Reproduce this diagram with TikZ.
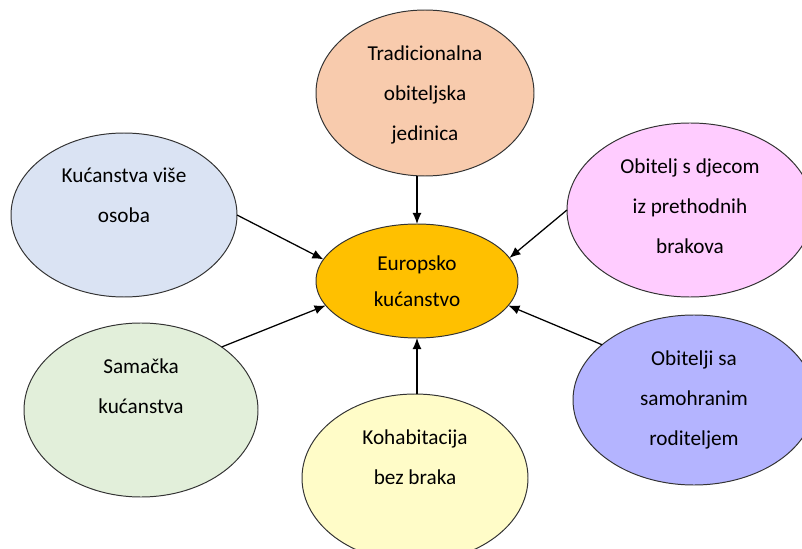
\documentclass[tikz,border=0pt]{standalone}
\usepackage{fontspec}
\setmainfont{Carlito}
\usepackage{xcolor}
\usetikzlibrary{arrows.meta,positioning,shapes.geometric}
\definecolor{peach}{HTML}{F8CBAD}
\definecolor{gold}{HTML}{FFC000}
\definecolor{paleblue}{HTML}{DAE3F3}
\definecolor{palegreen}{HTML}{E2EFDA}
\definecolor{paleyellow}{HTML}{FFFCC8}
\definecolor{palepink}{HTML}{FFCCFF}
\definecolor{periwinkle}{HTML}{B4B4FF}
\tikzset{%
	bubble/.style = {draw=black!80, ellipse, line width=0.7pt, inner sep=0pt, outer sep=0pt},
	txt/.style    = {align=center, inner sep=0pt, font=\fontsize{15.1}{28.5}\selectfont},
	arrow/.style  = {line width=0.9pt, -{Latex[length=2.8mm,width=2.3mm]}},
}
\begin{document}
\begin{tikzpicture}
		\useasboundingbox (0,0) rectangle (20.05,13.7);
		
		% households around the centre
		\node[bubble, fill=gold, minimum width=5.05cm, minimum height=2.85cm] (eu) at (10.425,6.675) {};
		\node[bubble, fill=peach, minimum width=5.45cm, minimum height=4.15cm] (tr) at (10.625,11.375) {};
		\node[bubble, fill=paleblue, minimum width=5.65cm, minimum height=4.1cm] (kv) at (3.1,8.325) {};
		\node[bubble, fill=palepink, minimum width=6.15cm, minimum height=4.35cm] (od) at (17.25,8.45) {};
		\node[bubble, fill=palegreen, minimum width=5.85cm, minimum height=4.35cm] (sk) at (3.525,3.45) {};
		\node[bubble, fill=periwinkle, minimum width=6.05cm, minimum height=4.25cm] (ob) at (17.35,3.7) {};
		\node[bubble, fill=paleyellow, minimum width=5.65cm, minimum height=4.2cm] (kb) at (10.375,1.75) {};
		
		\node[txt, font=\fontsize{15.1}{26.3}\selectfont, below=0.775cm of eu.north] (eut) {Europsko\\kućanstvo};
		\node[txt, below=0.875cm of tr.north] (trt) {Tradicionalna\\obiteljska\\jedinica};
		\node[txt, below=0.875cm of kv.north] (kvt) {Kućanstva više\\osoba};
		\node[txt, below=0.875cm of od.north] (odt) {Obitelj s djecom\\iz prethodnih\\brakova};
		\node[txt, below=0.875cm of sk.north] (skt) {Samačka\\kućanstva};
		\node[txt, below=0.875cm of ob.north] (obt) {Obitelji sa\\samohranim\\roditeljem};
		\node[txt, below=0.875cm of kb.north] (kbt) {Kohabitacija\\bez braka};
		
		% arrows into the centre
		\draw[arrow] (eu.north |- tr.south) -- (eu.north);
		\draw[arrow] (eu.south |- kb.north) -- (eu.south);
		\draw[arrow] (kv.east) -- (eu.167);
		\draw[arrow] (od.west) -- (eu.14);
		\draw[arrow] (sk.38) -- (eu.195);
		\draw[arrow] (ob.149) -- (eu.345);
\end{tikzpicture}
\end{document}
